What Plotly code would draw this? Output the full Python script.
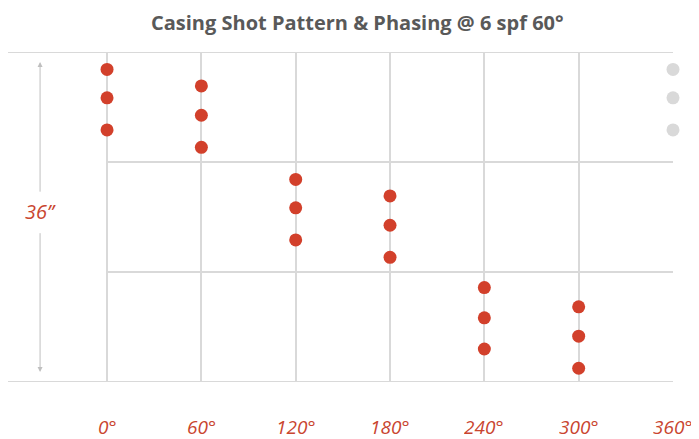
import plotly.graph_objects as go

# Data: phase angle (deg) and shot depth (inches from top of 36" interval)
phases = [0, 60, 120, 180, 240, 300]
shot_depths = [
    [1.9, 5.0, 8.5],
    [3.7, 6.9, 10.4],
    [13.9, 17.0, 20.5],
    [15.7, 18.9, 22.4],
    [25.7, 29.0, 32.4],
    [27.8, 31.0, 34.5],
]
repeat_phase = 360
repeat_depths = [1.9, 5.0, 8.5]
tick_vals = [0, 60, 120, 180, 240, 300, 360]
tick_text = ["0°", "60°", "120°", "180°", "240°", "300°", "360°"]
row_lines = [12, 24]
interval_len = 36
title = "Casing Shot Pattern & Phasing @ 6 spf 60°"
span_label = "36\u201d"

RED = "#d2402b"
TXT_RED = "#c9452f"
GRID = "#d9d9d9"

# page body has an 8px margin; size the figure to fill the rest of the window
W, H = 691, 431
ML, MR, MT, MB = 0, 26, 44, 57

fig = go.Figure()

xs, ys = [], []
for p, ds in zip(phases, shot_depths):
    for d in ds:
        xs.append(p)
        ys.append(d)
fig.add_trace(go.Scatter(x=xs, y=ys, mode="markers",
                         marker=dict(size=13, color=RED),
                         cliponaxis=False, showlegend=False, hoverinfo="skip"))
fig.add_trace(go.Scatter(x=[repeat_phase] * len(repeat_depths), y=repeat_depths,
                         mode="markers", marker=dict(size=13, color="#d9d9d9"),
                         cliponaxis=False, showlegend=False, hoverinfo="skip"))

shapes = []
for yv in [0, interval_len]:
    shapes.append(dict(type="line", xref="x", yref="y", x0=-63, x1=360, y0=yv, y1=yv,
                       line=dict(color=GRID, width=2), layer="below"))
for yv in row_lines:
    shapes.append(dict(type="line", xref="x", yref="y", x0=0, x1=360, y0=yv, y1=yv,
                       line=dict(color=GRID, width=2), layer="below"))

annotations = []
for v, t in zip(tick_vals, tick_text):
    annotations.append(dict(x=v, y=0, xref="x", yref="paper", yshift=-45,
                            text="<i>" + t + "</i>", showarrow=False, height=20,
                            borderpad=0, valign="middle",
                            font=dict(family="Open Sans", size=19, color=TXT_RED),
                            xanchor="center", yanchor="middle"))

arrow_x = -42.6
annotations.append(dict(x=arrow_x, y=1.1, ax=arrow_x, ay=15.4, xref="x", yref="y",
                        axref="x", ayref="y", text="", showarrow=True,
                        arrowhead=2, arrowsize=1, arrowwidth=1, arrowcolor="#bfbfbf"))
annotations.append(dict(x=arrow_x, y=34.9, ax=arrow_x, ay=19.6, xref="x", yref="y",
                        axref="x", ayref="y", text="", showarrow=True,
                        arrowhead=2, arrowsize=1, arrowwidth=1, arrowcolor="#bfbfbf"))
annotations.append(dict(x=arrow_x, y=17.4, xref="x", yref="y",
                        text="<i>" + span_label + "</i>", showarrow=False,
                        font=dict(family="Open Sans", size=20, color=TXT_RED),
                        xanchor="center", yanchor="middle"))
annotations.append(dict(x=(349 - ML) / (W - ML - MR), y=1 + (MT - 14) / (H - MT - MB),
                        xref="paper", yref="paper", text="<b>" + title + "</b>",
                        showarrow=False, xanchor="center", yanchor="middle",
                        font=dict(family="Open Sans", size=20, color="#595959")))

fig.update_layout(
    width=W, height=H,
    margin=dict(l=ML, r=MR, t=MT, b=MB),
    paper_bgcolor="white", plot_bgcolor="white",
    xaxis=dict(range=[-63, 360], tickvals=tick_vals, showticklabels=False,
               showgrid=True, gridcolor=GRID, gridwidth=1.5, zeroline=False,
               showline=False, fixedrange=True),
    yaxis=dict(range=[interval_len, 0], showticklabels=False, showgrid=False,
               zeroline=False, showline=False, fixedrange=True),
    shapes=shapes,
    annotations=annotations,
)

fig.write_html("out.html")
